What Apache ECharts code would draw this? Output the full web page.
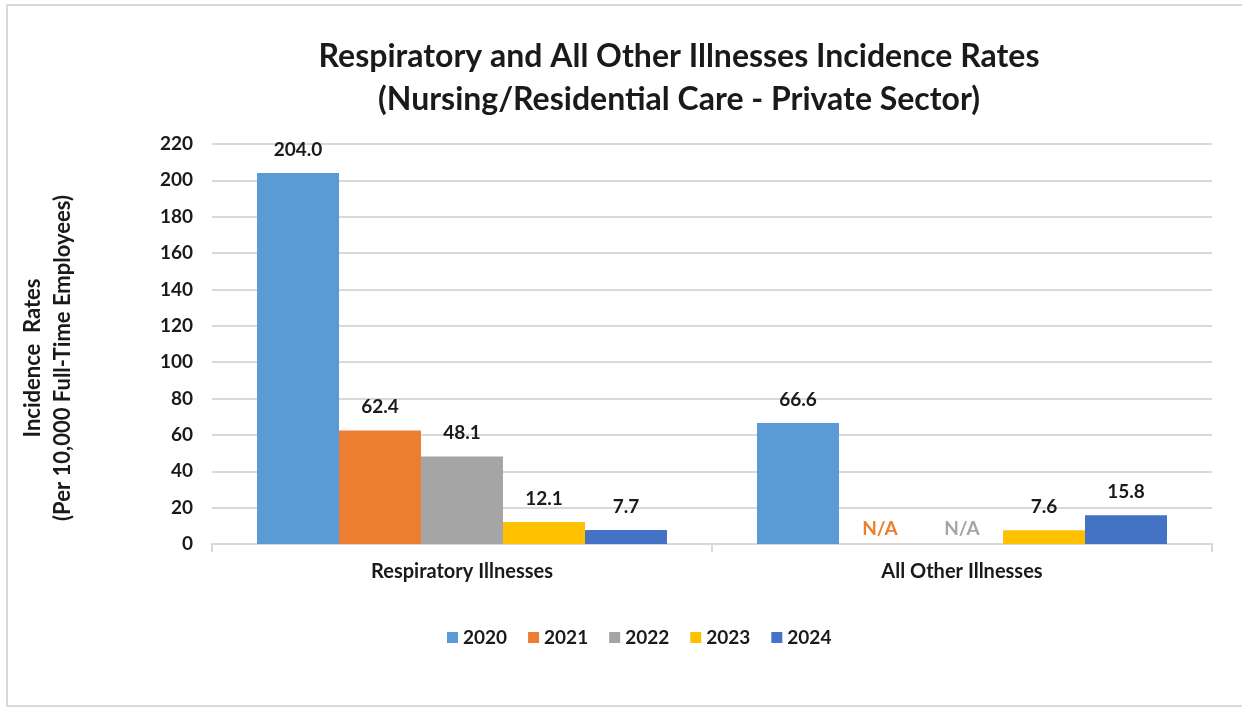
<!DOCTYPE html>
<html>
<head>
<meta charset="utf-8">
<script src="https://cdn.jsdelivr.net/npm/echarts@6/dist/echarts.min.js"></script>
<style>
  html, body { margin: 0; padding: 0; background: #fff; }
  #chart { width: 1242px; height: 707px; }
</style>
</head>
<body>
<div id="chart"></div>
<script>
// categories and series (null = N/A)
const categories = ['Respiratory Illnesses', 'All Other Illnesses']
const years = ['2020', '2021', '2022', '2023', '2024']
const values2020 = [204.0, 66.6]
const values2021 = [62.4, null]
const values2022 = [48.1, null]
const values2023 = [12.1, 7.6]
const values2024 = [7.7, 15.8]
const colors = ['#5B9BD5', '#ED7D31', '#A5A5A5', '#FFC000', '#4472C4']

const font = 'Lato'
const allValues = [values2020, values2021, values2022, values2023, values2024]

const chart = echarts.init(document.getElementById('chart'))

const series = years.map((y, i) => {
  return {
    name: y,
    type: 'bar',
    barGap: '0%',
    barCategoryGap: '18%',
    itemStyle: { color: colors[i] },
    label: {
      show: true,
      position: 'top',
      distance: 14,
      fontFamily: font,
      fontWeight: 'bold',
      fontSize: 19,
      color: '#1a1a1a',
      formatter: (p) => p.value.toFixed(1)
    },
    data: allValues[i].map((v) => {
      if (v === null) {
        // N/A: empty bar, label in series colour
        return {
          value: 0,
          label: { formatter: 'N/A', color: colors[i], distance: 6 }
        }
      }
      return v
    })
  }
})

const option = {
  animation: false,
  graphic: [
    {
      type: 'rect',
      shape: { x: 7, y: 5, width: 1260, height: 701 },
      style: { fill: 'none', stroke: '#d9d9d9', lineWidth: 2 },
      silent: true
    }
  ],
  title: {
    text: 'Respiratory and All Other Illnesses Incidence Rates\n(Nursing/Residential Care - Private Sector)',
    left: 674,
    textAlign: 'center',
    top: 30,
    textStyle: {
      fontFamily: font,
      fontWeight: 'bold',
      fontSize: 32,
      lineHeight: 43,
      color: '#1a1a1a'
    }
  },
  legend: {
    data: years,
    top: 623,
    left: 442,
    icon: 'rect',
    itemWidth: 11,
    itemHeight: 11,
    itemGap: 21,
    textStyle: {
      fontFamily: font,
      fontWeight: 'bold',
      fontSize: 19,
      color: '#1a1a1a'
    }
  },
  grid: {
    left: 212,
    right: 30,
    top: 144,
    bottom: 163,
    containLabel: false
  },
  xAxis: {
    type: 'category',
    data: categories,
    axisLine: { lineStyle: { color: '#d9d9d9', width: 2 } },
    axisTick: { show: true, length: 8, lineStyle: { color: '#d9d9d9', width: 2 } },
    axisLabel: {
      margin: 18,
      fontFamily: font,
      fontWeight: 'bold',
      fontSize: 20,
      color: '#1a1a1a'
    }
  },
  yAxis: {
    type: 'value',
    min: 0,
    max: 220,
    interval: 20,
    name: 'Incidence  Rates\n(Per 10,000 Full-Time Employees)',
    nameLocation: 'middle',
    nameGap: 134,
    nameTextStyle: {
      fontFamily: font,
      fontWeight: 'bold',
      fontSize: 22,
      lineHeight: 30,
      padding: [0, 28, 0, 0],
      color: '#1a1a1a'
    },
    axisLine: { show: false },
    axisTick: { show: false },
    axisLabel: {
      margin: 19,
      fontFamily: font,
      fontWeight: 'bold',
      fontSize: 19,
      color: '#1a1a1a'
    },
    splitLine: { lineStyle: { color: '#d9d9d9', width: 2 } }
  },
  series: series
}

chart.setOption(option)
</script>
</body>
</html>
